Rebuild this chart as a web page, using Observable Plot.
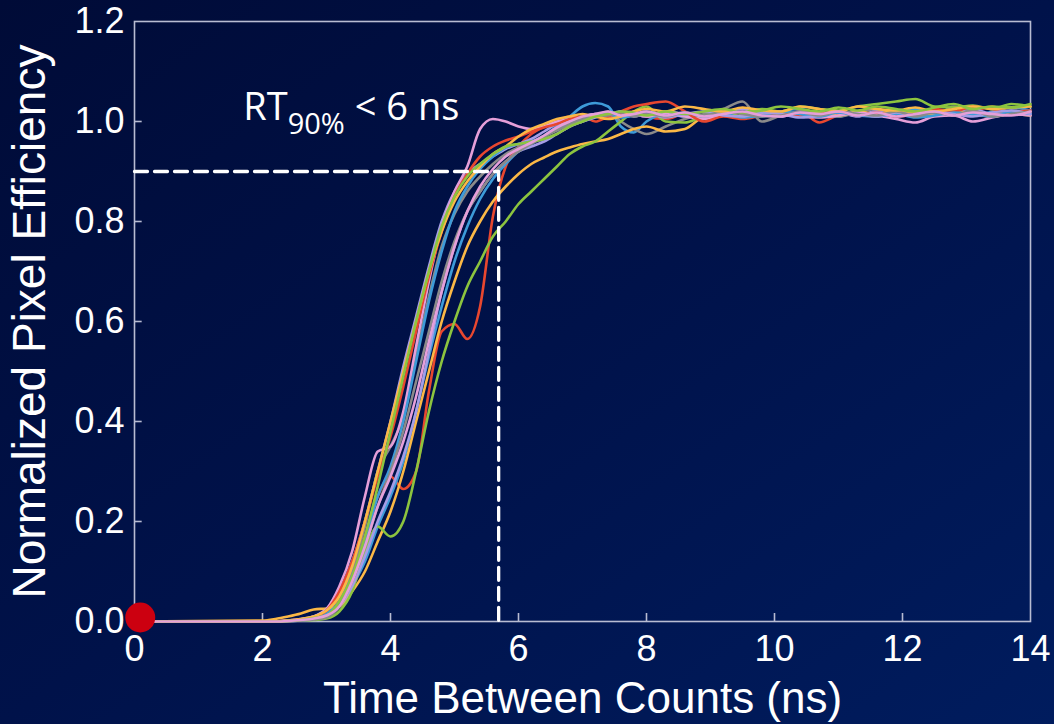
<!DOCTYPE html>
<html>
<head>
<meta charset="utf-8">
<script src="https://cdn.jsdelivr.net/npm/d3@7"></script>
<script src="https://cdn.jsdelivr.net/npm/@observablehq/plot@0.6"></script>
<style>
  html, body { margin: 0; padding: 0; }
  body {
    width: 1054px; height: 724px; overflow: hidden;
    background: linear-gradient(to bottom right, #000b37 0%, #00124a 50%, #001c5e 100%);
  }
  svg { display: block; }
</style>
</head>
<body>
<div id="chart"></div>
<script>
// Sampling times (ns) shared by every pixel trace
const time = [0, 2.0, 2.2, 2.4, 2.6, 2.8, 3.0, 3.2, 3.4, 3.6, 3.8, 4.0, 4.2, 4.4, 4.6, 4.8,
  5.0, 5.2, 5.4, 5.6, 5.8, 6.0, 6.2, 6.4, 6.6, 6.8, 7.0, 7.2, 7.4, 7.6, 7.8, 8.0,
  8.3, 8.6, 8.9, 9.2, 9.5, 9.8, 10.1, 10.4, 10.7, 11.0, 11.3, 11.6, 11.9, 12.2, 12.5, 12.8, 13.1, 13.4, 13.7, 14.0];

// Normalized efficiency of each pixel, one value per sampling time
const red1 = [0, 0, 0, 0.002, 0.004, 0.008,
  0.02, 0.05, 0.1, 0.17, 0.25, 0.29, 0.265, 0.3, 0.46, 0.58,
  0.595, 0.565, 0.63, 0.81, 0.91, 0.95, 0.975, 0.99, 1.0, 1.01,
  1.005, 1.012, 1.008, 1.015, 1.02, 1.01,
  1.005, 1.015, 1.01, 1.02, 1.008, 1.015, 1.012, 1.02, 0.998, 1.012, 1.015, 1.01, 1.022, 1.01, 1.018, 1.015, 1.02, 1.03, 1.018, 1.02];
const red2 = [0, 0, 0, 0.001, 0.003, 0.008,
  0.022, 0.06, 0.12, 0.2, 0.29, 0.37, 0.47, 0.58, 0.69, 0.78,
  0.85, 0.895, 0.93, 0.95, 0.962, 0.97, 0.98, 0.988, 0.995, 1.005,
  1.01, 1.0, 1.01, 1.02, 1.03, 1.035,
  1.04, 1.02, 1.0, 1.01, 1.005, 1.012, 1.018, 1.01, 1.015, 1.02, 1.012, 1.018, 1.01, 1.015, 1.025, 1.02, 1.03, 1.025, 1.02, 1.022];
const blue1 = [0, 0, 0, 0.001, 0.002, 0.005,
  0.012, 0.03, 0.07, 0.12, 0.19, 0.25, 0.32, 0.42, 0.53, 0.63,
  0.72, 0.79, 0.845, 0.885, 0.915, 0.94, 0.955, 0.972, 0.99, 1.01,
  1.03, 1.037, 1.03, 0.99, 0.978, 1.0,
  1.015, 1.01, 1.02, 1.012, 1.018, 1.01, 1.02, 1.025, 1.015, 1.01, 1.02, 1.012, 1.018, 1.025, 1.015, 1.02, 1.012, 1.02, 1.028, 1.022];
const blue2 = [0, 0, 0, 0.001, 0.003, 0.006,
  0.015, 0.04, 0.09, 0.16, 0.25, 0.31, 0.4, 0.52, 0.64, 0.74,
  0.82, 0.87, 0.905, 0.93, 0.948, 0.955, 0.96, 0.97, 0.985, 0.995,
  1.005, 1.01, 1.015, 1.008, 1.012, 1.02,
  1.012, 1.018, 1.01, 1.015, 1.008, 1.012, 1.02, 1.015, 1.01, 1.018, 1.012, 1.01, 1.015, 1.008, 1.012, 1.018, 1.015, 1.01, 1.02, 1.015];
const lav1 = [0, 0, 0, 0.002, 0.004, 0.01,
  0.025, 0.06, 0.12, 0.2, 0.3, 0.4, 0.51, 0.61, 0.71, 0.8,
  0.86, 0.895, 0.915, 0.93, 0.945, 0.955, 0.965, 0.98, 0.995, 1.0,
  1.01, 1.015, 1.01, 1.02, 1.015, 1.01,
  1.02, 1.015, 1.01, 1.018, 1.025, 1.015, 1.01, 1.02, 1.012, 1.018, 1.01, 1.022, 1.015, 1.02, 1.012, 1.018, 1.025, 1.015, 1.02, 1.018];
const lav2 = [0, 0, 0, 0.001, 0.002, 0.005,
  0.012, 0.03, 0.07, 0.13, 0.2, 0.26, 0.33, 0.42, 0.54, 0.66,
  0.75, 0.82, 0.86, 0.895, 0.92, 0.94, 0.95, 0.96, 0.975, 0.99,
  1.0, 1.008, 1.015, 1.02, 1.01, 1.015,
  1.008, 1.015, 1.02, 1.012, 1.01, 1.018, 1.015, 1.008, 1.012, 1.02, 1.015, 1.01, 1.018, 1.012, 1.02, 1.015, 1.01, 1.018, 1.022, 1.015];
const gray1 = [0, 0, 0, 0.001, 0.003, 0.006,
  0.015, 0.04, 0.1, 0.19, 0.3, 0.35, 0.41, 0.53, 0.65, 0.75,
  0.815, 0.86, 0.89, 0.915, 0.935, 0.948, 0.958, 0.965, 0.975, 0.99,
  1.0, 1.01, 1.02, 1.0, 0.985, 0.975,
  0.99, 1.005, 1.015, 1.025, 1.04, 1.0, 1.012, 1.02, 1.015, 1.01, 1.018, 1.025, 1.015, 1.02, 1.012, 1.03, 1.02, 1.015, 1.022, 1.018];
const gray2 = [0, 0, 0, 0.001, 0.002, 0.004,
  0.008, 0.03, 0.08, 0.15, 0.23, 0.3, 0.38, 0.48, 0.58, 0.68,
  0.76, 0.82, 0.86, 0.895, 0.92, 0.94, 0.955, 0.97, 0.982, 0.995,
  1.005, 1.01, 1.012, 1.018, 1.01, 1.015,
  1.01, 1.018, 1.012, 1.02, 1.015, 1.01, 1.012, 1.018, 1.012, 1.02, 1.015, 1.012, 1.02, 1.01, 1.018, 1.012, 1.022, 1.01, 1.015, 1.02];
const yel1 = [0, 0.002, 0.005, 0.01, 0.016, 0.024,
  0.026, 0.03, 0.06, 0.1, 0.16, 0.22, 0.3, 0.4, 0.5, 0.6,
  0.68, 0.75, 0.8, 0.84, 0.87, 0.895, 0.915, 0.928, 0.94, 0.948,
  0.955, 0.96, 0.965, 0.975, 0.985, 0.99,
  0.98, 0.985, 1.01, 1.015, 1.01, 1.02, 1.015, 1.01, 1.018, 1.012, 1.02, 1.015, 1.022, 1.018, 1.012, 1.02, 1.015, 1.01, 1.015, 1.012];
const yel2 = [0, 0, 0, 0.002, 0.005, 0.01,
  0.022, 0.05, 0.11, 0.2, 0.3, 0.4, 0.5, 0.6, 0.7, 0.78,
  0.84, 0.88, 0.91, 0.935, 0.95, 0.97, 0.985, 0.995, 1.005, 1.01,
  1.015, 1.01, 1.005, 1.01, 1.02, 1.025,
  1.02, 1.03, 1.025, 1.02, 1.028, 1.022, 1.02, 1.03, 1.025, 1.02, 1.03, 1.025, 1.022, 1.028, 1.02, 1.025, 1.03, 1.025, 1.028, 1.03];
const grn1 = [0, 0, 0, 0.001, 0.002, 0.003,
  0.006, 0.02, 0.06, 0.14, 0.19, 0.17, 0.2, 0.3, 0.42, 0.52,
  0.6, 0.67, 0.72, 0.77, 0.8, 0.835, 0.86, 0.885, 0.91, 0.935,
  0.95, 0.96, 0.98, 1.0, 1.02, 1.03,
  1.0, 0.998, 1.01, 1.012, 1.018, 1.025, 1.02, 1.03, 1.025, 1.022, 1.03, 1.035, 1.04, 1.045, 1.03, 1.028, 1.032, 1.025, 1.035, 1.03];
const grn2 = [0, 0, 0, 0.001, 0.003, 0.007,
  0.012, 0.04, 0.09, 0.17, 0.27, 0.38, 0.49, 0.6, 0.7, 0.79,
  0.85, 0.89, 0.915, 0.935, 0.95, 0.955, 0.96, 0.965, 0.975, 0.99,
  1.0, 1.01, 1.015, 1.02, 1.018, 1.012,
  1.02, 1.015, 1.02, 1.025, 1.018, 1.022, 1.03, 1.025, 1.02, 1.028, 1.022, 1.03, 1.025, 1.02, 1.028, 1.035, 1.025, 1.03, 1.028, 1.035];
const pnk1 = [0, 0, 0, 0.002, 0.005, 0.01,
  0.025, 0.07, 0.14, 0.25, 0.34, 0.35, 0.42, 0.55, 0.68, 0.79,
  0.86, 0.91, 0.985, 1.005, 1.0, 0.99, 0.985, 0.99, 1.0, 1.005,
  1.01, 1.015, 1.012, 1.02, 1.015, 1.01,
  1.015, 1.01, 1.005, 1.012, 1.01, 1.015, 1.02, 1.01, 1.008, 1.012, 1.018, 1.012, 1.005, 0.998, 1.01, 1.012, 1.0, 1.008, 1.015, 1.012];
const pnk2 = [0, 0, 0, 0.001, 0.003, 0.006,
  0.012, 0.03, 0.08, 0.15, 0.23, 0.29, 0.36, 0.45, 0.56, 0.66,
  0.75, 0.82, 0.87, 0.905, 0.93, 0.945, 0.958, 0.972, 0.988, 1.0,
  1.01, 1.015, 1.02, 1.012, 1.015, 1.02,
  1.012, 1.018, 1.01, 1.015, 1.02, 1.012, 1.01, 1.018, 1.015, 1.02, 1.012, 1.018, 1.01, 1.015, 1.02, 1.012, 1.018, 1.015, 1.012, 1.02];

const traceNames = ["red1", "blue1", "lav1", "gray1", "yel1", "grn1", "pnk1",
                    "red2", "blue2", "lav2", "gray2", "yel2", "grn2", "pnk2"];
const traceValues = [red1, blue1, lav1, gray1, yel1, grn1, pnk1,
                     red2, blue2, lav2, gray2, yel2, grn2, pnk2];
const traceColors = ["#e8472f", "#3d9bd9", "#a59ce6", "#8a8a8a", "#fbb846", "#8cc43f", "#e59fd9",
                     "#e8472f", "#3d9bd9", "#a59ce6", "#8a8a8a", "#fbb846", "#8cc43f", "#e59fd9"];

// Axis ticks
const xTicks = [0, 2, 4, 6, 8, 10, 12, 14];
const yTicks = [0, 0.2, 0.4, 0.6, 0.8, 1.0, 1.2];

// 90% rise-time guide: level and crossing time
const guideT = [0, 5.69, 5.69];
const guideV = [0.9, 0.9, 0];

const rows = traceNames.flatMap((name, k) =>
  time.map((t, i) => ({t, v: traceValues[k][i], id: name})));

const frameColor = "#b8bcd2";

const chart = Plot.plot({
  width: 1054,
  height: 724,
  marginLeft: 134,
  marginRight: 24,
  marginTop: 21,
  marginBottom: 103,
  x: {domain: [0, 14]},
  y: {domain: [0, 1.2]},
  color: {domain: traceNames, range: traceColors},
  style: {background: "transparent", color: "white", fontFamily: "'Liberation Sans', Arial, sans-serif"},
  marks: [
    Plot.frame({stroke: frameColor, strokeWidth: 1.6}),
    Plot.ruleX(xTicks.slice(1, -1), {x: d => d, y1: 0, y2: 0.016, stroke: frameColor, strokeWidth: 1.6}),
    Plot.ruleY(yTicks.slice(1, -1), {y: d => d, x1: 0, x2: 0.12, stroke: frameColor, strokeWidth: 1.6}),
    Plot.axisX(xTicks, {tickSize: 0, tickPadding: 14, fontSize: 36, label: null, fill: "white"}),
    Plot.axisY(yTicks, {tickSize: 0, tickPadding: 10, fontSize: 36, label: null, fill: "white",
                        tickFormat: d3.format(".1f")}),
    Plot.text(["Time Between Counts (ns)"], {frameAnchor: "bottom", dy: 91, lineAnchor: "bottom",
                        fontSize: 44, fill: "white"}),
    Plot.text(["Normalized Pixel Efficiency"], {frameAnchor: "left", dx: -104, rotate: -90,
                        textAnchor: "middle", fontSize: 46, fill: "white"}),
    Plot.line(rows, {x: "t", y: "v", z: "id", stroke: "id", strokeWidth: 2.6, curve: "monotone-x"}),
    Plot.line(guideT.map((t, i) => ({t, v: guideV[i]})),
              {x: "t", y: "v", stroke: "white", strokeWidth: 3.3, strokeDasharray: "13,7"}),
    Plot.dot([{t: 0.09, v: 0.008}], {x: "t", y: "v", r: 15, fill: "#cc0010"}),
    Plot.text(["RT"], {x: 1.7, y: 1.004, textAnchor: "start", lineAnchor: "bottom",
                       fontSize: 38, fill: "white", fontFamily: "'Open Sans', 'Noto Sans', sans-serif"})
  ]
});

// Subscripted rise-time label
for (const el of chart.querySelectorAll("text")) {
  if (el.textContent === "RT") {
    el.textContent = "";
    const ns = "http://www.w3.org/2000/svg";
    const a = document.createElementNS(ns, "tspan"); a.textContent = "RT";
    const b = document.createElementNS(ns, "tspan"); b.textContent = "90%";
    b.setAttribute("font-size", "29"); b.setAttribute("dy", "14");
    const c = document.createElementNS(ns, "tspan"); c.textContent = " < 6 ns";
    c.setAttribute("dy", "-14");
    el.append(a, b, c);
  }
}

document.getElementById("chart").append(chart);
</script>
</body>
</html>
